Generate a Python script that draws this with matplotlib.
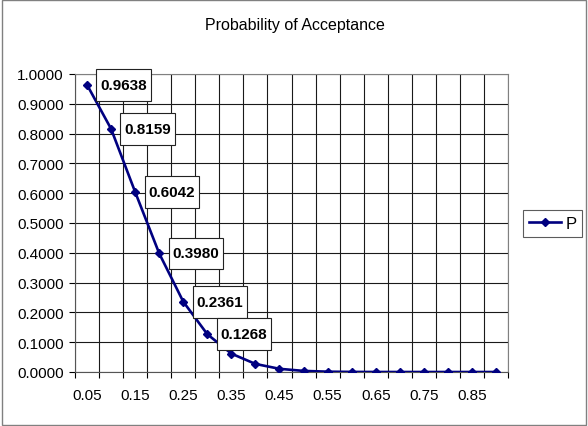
import numpy as np
import matplotlib.pyplot as plt
from matplotlib.patches import Rectangle
from matplotlib.path import Path

plt.rcParams['font.family'] = ['Liberation Sans', 'DejaVu Sans']

x_labels = ['0.05', '0.10', '0.15', '0.20', '0.25', '0.30', '0.35', '0.40', '0.45',
            '0.50', '0.55', '0.60', '0.65', '0.70', '0.75', '0.80', '0.85', '0.90']
p_vals = [0.9638, 0.8159, 0.6042, 0.3980, 0.2361, 0.1268, 0.0617, 0.0271, 0.0107,
          0.0037, 0.0011, 0.0003, 0.0001, 0.0000, 0.0000, 0.0000, 0.0000, 0.0000]
n_labeled = 6

navy = '#000080'


def label_box(x0, y0, width, height, mutation_size):
    # taller padding than wide, like the Excel data labels
    px = 0.25 * mutation_size
    py = 0.58 * mutation_size
    x0, y0 = x0 - px, y0 - py
    x1, y1 = x0 + width + 2 * px, y0 + height + 2 * py
    return Path([(x0, y0), (x1, y0), (x1, y1), (x0, y1), (x0, y0)], closed=True)


fig = plt.figure(figsize=(5.88, 4.27), dpi=100)
fig.patches.append(Rectangle((0.003, 0.003), 0.994, 0.994, transform=fig.transFigure,
                             fill=False, edgecolor='#808080', linewidth=1))
ax = fig.add_axes([75 / 588, 54 / 427, 433 / 588, 298 / 427])

n = len(x_labels)
xs = np.arange(n)
line, = ax.plot(xs, p_vals, color=navy, linewidth=1.9, marker='D', markersize=4.5,
                label='P', zorder=3)

for i in range(n_labeled):
    ax.annotate(f'{p_vals[i]:.4f}', (xs[i], p_vals[i]), xytext=(9.5, 0),
                textcoords='offset points', ha='left', va='center',
                fontsize=11, fontweight='bold', zorder=4,
                bbox=dict(boxstyle=label_box, facecolor='white',
                          edgecolor='#222222', linewidth=0.8))

ax.set_xlim(-0.5, n - 0.5)
ax.set_ylim(0, 1.0)

ax.set_xticks(np.arange(-0.5, n, 1))
ax.set_xticklabels([])
ax.set_xticks(xs[::2], labels=x_labels[::2], minor=True)
ax.tick_params(axis='x', which='minor', length=0, pad=11.5, labelsize=11)
ax.tick_params(axis='x', which='major', length=4, direction='out')

ax.set_yticks(np.arange(0, 1.01, 0.1))
ax.set_yticklabels([f'{v:.4f}' for v in np.arange(0, 1.01, 0.1)])
ax.tick_params(axis='y', length=4, pad=4, labelsize=11)

ax.grid(True, which='major', color='#1a1a1a', linewidth=0.8)
ax.set_axisbelow(True)
for side in ['top', 'right']:
    ax.spines[side].set_color('#808080')
for side in ['left', 'bottom']:
    ax.spines[side].set_color('#555555')

fig.text(0.502, 0.94, 'Probability of Acceptance', ha='center', va='center', fontsize=11.5)

leg = fig.legend(handles=[line], loc='center left', bbox_to_anchor=(523 / 588, 0.475),
                 fontsize=12, frameon=True, fancybox=False, handlelength=1.9,
                 borderpad=0.35, handletextpad=0.3, borderaxespad=0)
leg.get_frame().set_edgecolor('#333333')
leg.get_frame().set_linewidth(0.8)

fig.savefig('out.png', dpi=100)
